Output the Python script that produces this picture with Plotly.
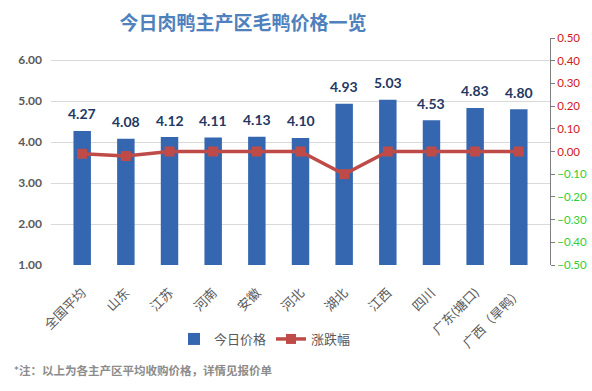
import plotly.graph_objects as go

categories = ["全国平均", "山东", "江苏", "河南", "安徽", "河北", "湖北", "江西", "四川", "广东(塘口)", "广西（旱鸭）"]
prices = [4.27, 4.08, 4.12, 4.11, 4.13, 4.10, 4.93, 5.03, 4.53, 4.83, 4.80]
changes = [-0.01, -0.02, 0.00, 0.00, 0.00, 0.00, -0.10, 0.00, 0.00, 0.00, 0.00]
left_ticks = [1, 2, 3, 4, 5, 6]
pos_ticks = [0.0, 0.1, 0.2, 0.3, 0.4, 0.5]
neg_ticks = [-0.1, -0.2, -0.3, -0.4, -0.5]

FONT = "Lato, Noto Sans CJK SC, sans-serif"
W, H = 592, 391
L, R, T, B = 51, 42, 38, 126
PW, PH = W - L - R, H - T - B

fig = go.Figure()
fig.add_trace(go.Bar(
    x=categories, y=prices, name="今日价格", width=0.4,
    marker=dict(color="#3467B0", line=dict(width=0)),
    yaxis="y",
))
fig.add_trace(go.Scatter(
    x=categories, y=changes, name="涨跌幅", mode="lines+markers",
    line=dict(color="#BE4B48", width=3.5),
    marker=dict(symbol="square", size=10, color="#BE4B48"),
    yaxis="y2",
))
# invisible trace so yaxis3 is drawn
fig.add_trace(go.Scatter(x=[categories[0]], y=[None], yaxis="y3", showlegend=False, hoverinfo="skip"))

for c, v in zip(categories, prices):
    fig.add_annotation(
        x=c, y=v, xref="x", yref="y", text=f"{v:.2f}", showarrow=False,
        yanchor="middle", yshift=17,
        font=dict(family=FONT, size=14, color="#1F3864", weight="bold"),
    )

fig.add_annotation(
    x=(12 - L) / PW, y=(H - B - 370) / PH, xref="paper", yref="paper",
    xanchor="left", yanchor="middle",
    text="*注：以上为各主产区平均收购价格，详情见报价单", showarrow=False,
    font=dict(family=FONT, size=11.5, color="#8C8C8C", weight="bold"),
)

fig.update_layout(
    width=W, height=H,
    margin=dict(l=L, r=R, t=T, b=B, autoexpand=False),
    paper_bgcolor="white", plot_bgcolor="white",
    font=dict(family=FONT, color="#595959"),
    title=dict(
        text="今日肉鸭主产区毛鸭价格一览",
        xref="container", yref="container",
        x=243 / W, xanchor="center", y=1 - 23 / H, yanchor="middle",
        font=dict(family=FONT, size=19, color="#4F81BD", weight="bold"),
    ),
    showlegend=True,
    legend=dict(
        orientation="h", xref="container", yref="container",
        x=265 / W, xanchor="center", y=1 - 339 / H, yanchor="middle",
        font=dict(family=FONT, size=13, color="#595959"),
        itemwidth=30, bgcolor="rgba(0,0,0,0)",
    ),
    xaxis=dict(
        tickangle=-45, tickfont=dict(family=FONT, size=13, color="#595959"),
        showline=False, showgrid=False, automargin=False,
        ticks="outside", ticklen=14, tickcolor="rgba(0,0,0,0)",
    ),
    yaxis=dict(
        range=[1, 1 + PH / 41], tickvals=left_ticks, tickformat=".2f",
        showgrid=True, gridcolor="#D9D9D9", gridwidth=1, zeroline=False,
        showline=False, ticks="", automargin=False,
        tickfont=dict(family=FONT, size=12, color="#595959", weight="bold"),
        ticklabelstandoff=8,
    ),
    yaxis2=dict(
        range=[-0.5, 0.5], overlaying="y", side="right", anchor="x",
        tickvals=pos_ticks, tickformat=".2f", showgrid=False, zeroline=False,
        showline=True, linecolor="#7F7F7F", linewidth=1, automargin=False,
        ticks="outside", ticklen=4, tickcolor="#7F7F7F",
        tickfont=dict(family=FONT, size=11.5, color="#D01818"),
    ),
    yaxis3=dict(
        range=[-0.5, 0.5], overlaying="y", side="right", anchor="x",
        tickvals=neg_ticks, tickformat=".2f", showgrid=False, zeroline=False,
        showline=False, ticks="outside", ticklen=4, tickcolor="#7F7F7F", automargin=False,
        tickfont=dict(family=FONT, size=11.5, color="#33CC33"),
    ),
)

fig.write_html(
    "out.html",
    config={"displayModeBar": False},
    post_script="document.body.style.margin='0';document.body.style.overflow='hidden';",
)
